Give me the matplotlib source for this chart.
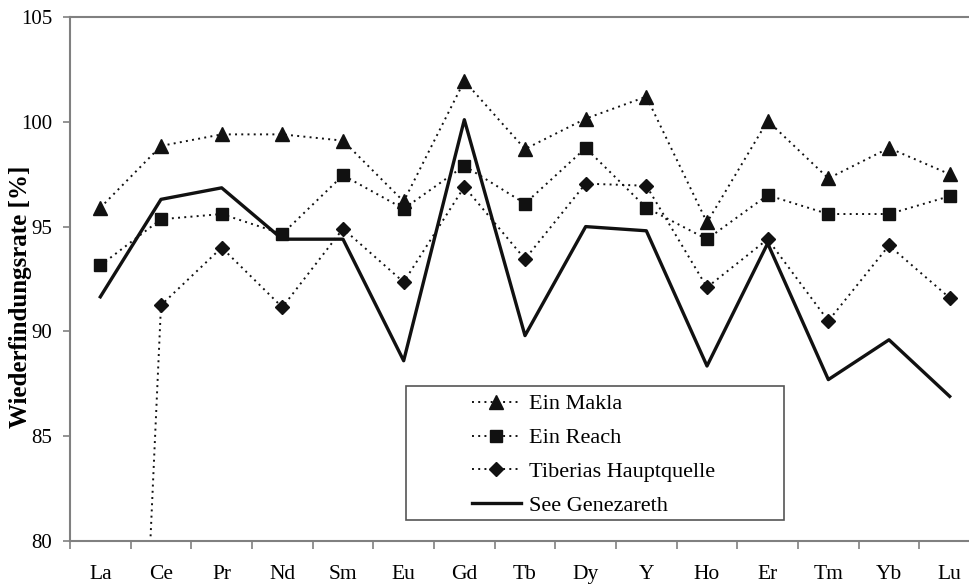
import numpy as np
import matplotlib
matplotlib.use("Agg")
import matplotlib.pyplot as plt
from matplotlib.patches import Rectangle

# Wiederfindungsraten der Seltenen Erden
elemente = ["La", "Ce", "Pr", "Nd", "Sm", "Eu", "Gd", "Tb", "Dy", "Y", "Ho", "Er", "Tm", "Yb", "Lu"]

ein_makla = [95.9, 98.85, 99.4, 99.4, 99.1, 96.2, 101.95, 98.7, 100.15, 101.2, 95.2, 100.05, 97.3, 98.75, 97.5]
ein_reach = [93.15, 95.35, 95.6, 94.65, 97.45, 95.85, 97.9, 96.1, 98.75, 95.9, 94.4, 96.5, 95.6, 95.6, 96.45]
tiberias = [27.0, 91.25, 94.0, 91.15, 94.9, 92.35, 96.9, 93.45, 97.05, 96.95, 92.1, 94.4, 90.5, 94.1, 91.6]
see_genezareth = [91.65, 96.3, 96.85, 94.4, 94.4, 88.6, 100.1, 89.8, 95.0, 94.8, 88.35, 94.2, 87.7, 89.6, 86.9]

plt.rcParams['font.family'] = ['Liberation Serif', 'DejaVu Serif']

fig = plt.figure(figsize=(9.69, 5.85), dpi=100)
ax = fig.add_axes([70/969, 1 - 541/585, 910/969, 524/585])

x = np.arange(len(elemente))
punkt = (0, (1, 2.2))

ax.plot(x, ein_makla, linestyle=punkt, color="#111111", lw=1.4, marker="^", ms=10, label="Ein Makla")
ax.plot(x, ein_reach, linestyle=punkt, color="#111111", lw=1.4, marker="s", ms=8.5, label="Ein Reach")
ax.plot(x, tiberias, linestyle=punkt, color="#111111", lw=1.4, marker="D", ms=7, label="Tiberias Hauptquelle")
ax.plot(x, see_genezareth, linestyle="-", color="#111111", lw=2.4, label="See Genezareth")

ax.set_xlim(-0.5, len(elemente) - 0.5)
ax.set_ylim(80, 105)
ax.set_yticks(np.arange(80, 106, 5))
ax.set_xticks(x)
ax.set_xticklabels(elemente, fontsize=15.5)
ax.set_xticks(np.arange(-0.5, len(elemente), 1), minor=True)
ax.tick_params(axis="x", which="major", length=0, pad=17)
ax.tick_params(axis="x", which="minor", length=6, width=1.2, color="#808080", direction="out")
ax.tick_params(axis="y", length=5, width=1.2, color="#808080", direction="out", labelsize=15, pad=8)

for s in ax.spines.values():
    s.set_color("#808080")
    s.set_linewidth(1.5)

fig.text(21/969, 1 - 297/585, "Wiederfindungsrate [%]", rotation=90, ha="center", va="center",
         fontsize=18, fontweight="bold")

# Legendenrahmen
fig.patches.append(Rectangle((406/969, 1 - 520/585), 378/969, 134/585, transform=fig.transFigure,
                             facecolor="white", edgecolor="#555555", lw=1.2, zorder=5))
leg = fig.legend(loc="center left", bbox_to_anchor=(472/969, 1 - 455/585), frameon=False,
                 fontsize=16, handlelength=2.2, handletextpad=0.35, labelspacing=0.6,
                 borderpad=0, borderaxespad=0)
leg.set_zorder(6)

fig.savefig("out.png", dpi=100)
